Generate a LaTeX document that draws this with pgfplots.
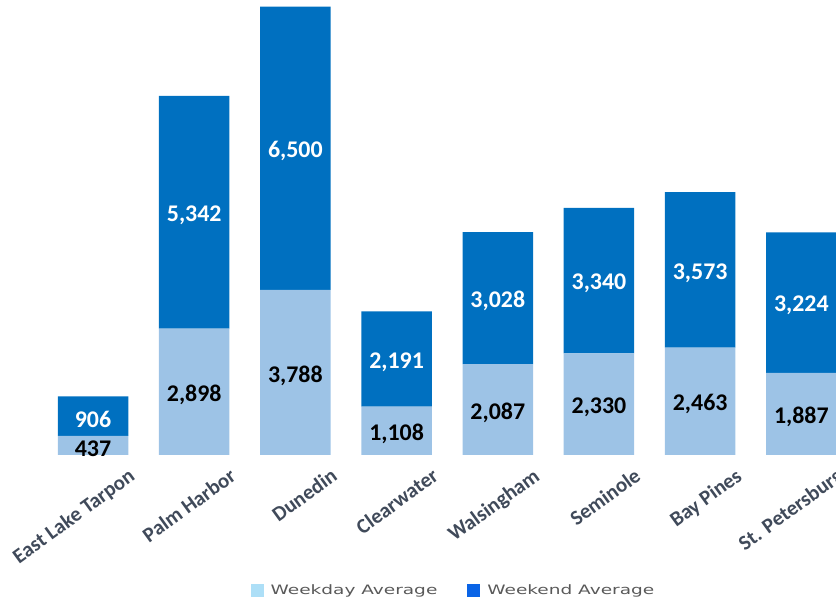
\documentclass[border=0pt]{standalone}
\usepackage{pgfplots}
\pgfplotsset{compat=1.18}
\usepackage{pgfplotstable}
\usepackage{fontspec}
\setmainfont{Carlito}
\newfontfamily\legfont[FakeStretch=1.43]{DejaVu Sans}
\definecolor{wkday}{HTML}{9DC3E6}
\definecolor{wkend}{HTML}{0070C0}
\definecolor{legday}{HTML}{ADDFF7}
\definecolor{legend2}{HTML}{0A64E6}
\definecolor{ticktext}{HTML}{404A5A}
\definecolor{legtext}{HTML}{595959}

\pgfplotstableread{
x weekday weekend
0 437 906
1 2898 5342
2 3788 6500
3 1108 2191
4 2087 3028
5 2330 3340
6 2463 3573
7 1887 3224
}\data

\pgfplotsset{common/.style={
  at={(0bp,144bp)}, anchor=south west,
  scale only axis, width=862.1bp, height=455bp,
  xmin=-0.919, xmax=7.6, ymin=0, ymax=10443}}

\begin{document}
\begin{tikzpicture}
\useasboundingbox (0,0) rectangle (836bp,599bp);
\clip (0,0) rectangle (836bp,599bp);
\begin{axis}[
  common,
  ybar stacked, bar width=70.5bp,
  axis line style={draw=none},
  major tick length=0pt,
  ytick=\empty,
  xtick={0.34,1.34,2.34,3.34,4.34,5.34,6.34,7.34},
  xticklabels={East Lake Tarpon, Palm Harbor, Dunedin, Clearwater, Walsingham, Seminole, Bay Pines, St. Petersburg},
  xticklabel shift=12bp,
  xticklabel style={font=\bfseries\fontsize{21}{24}\selectfont, text=ticktext, rotate=36, anchor=north east, inner sep=0pt},
  legend style={at={(0.526,-0.297)}, anchor=center, draw=none, fill=none,
    legend columns=2, font=\legfont\fontsize{13}{15}\selectfont, text=legtext,
    /tikz/every even column/.append style={column sep=28bp}},
  legend image code/.code={\fill[#1] (0bp,-6.5bp) rectangle (13bp,6.5bp); \path[draw=none,fill=none] (0bp,0bp) rectangle (18bp,0.1bp);},
  legend entries={Weekday Average, Weekend Average},
]
\addlegendimage{fill=legday, draw=none}
\addlegendimage{fill=legend2, draw=none}
\addplot[fill=wkday, draw=none] table[x=x, y=weekday]{\data};
\addplot[fill=wkend, draw=none] table[x=x, y=weekend]{\data};
\end{axis}
\begin{axis}[
  common, hide axis,
  /pgf/number format/assume math mode=true,
  /pgf/number format/1000 sep={,},
  nodes near coords,
  point meta=explicit,
  nodes near coords={\pgfmathprintnumber[fixed,precision=0]{\pgfplotspointmeta}},
  every node near coord/.append style={font=\bfseries\fontsize{24}{28}\selectfont, anchor=center, inner sep=0pt, yshift=-3bp},
]
\addplot[only marks, mark=none, every node near coord/.append style={text=black}]
  table[x=x, y expr=0.5*\thisrow{weekday}, meta=weekday]{\data};
\addplot[only marks, mark=none, every node near coord/.append style={text=white}]
  table[x=x, y expr=\thisrow{weekday}+0.5*\thisrow{weekend}, meta=weekend]{\data};
\end{axis}
\end{tikzpicture}
\end{document}
